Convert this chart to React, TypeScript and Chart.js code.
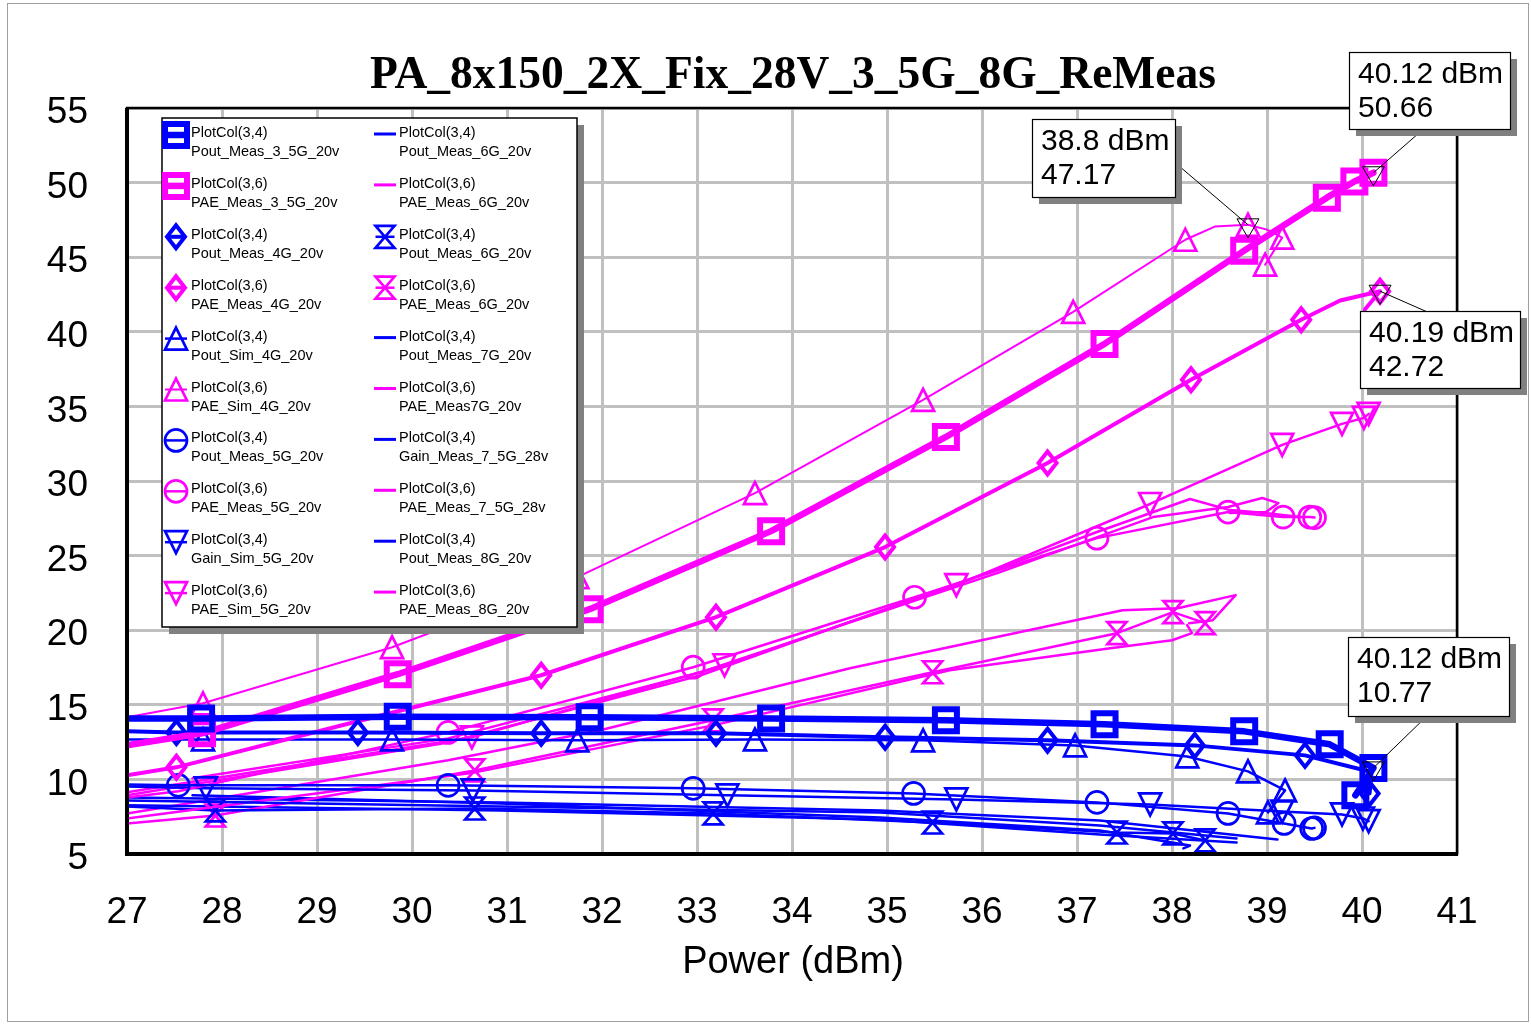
import React, { useEffect, useRef } from 'react';
import { Chart, registerables } from 'chart.js';

Chart.register(...registerables);

const BLUE = '#0000ff';
const MAGENTA = '#ff00ff';
const SANS = '"Liberation Sans", Arial, Helvetica, sans-serif';
const SERIF = '"Liberation Serif", "Times New Roman", serif';

const TITLE = 'PA_8x150_2X_Fix_28V_3_5G_8G_ReMeas';
const X_TITLE = 'Power (dBm)';
const X_MIN = 27, X_MAX = 41, X_STEP = 1;
const Y_MIN = 5, Y_MAX = 55, Y_STEP = 5;

// ---- measured / simulated sweeps (x = Power dBm, y = value) ----
const pout35X = [27.0, 27.78, 29.85, 31.87, 33.78, 35.62, 37.29, 38.76, 39.66, 40.12, 39.93];
const pout35Y = [14.08, 14.09, 14.2, 14.16, 14.09, 13.96, 13.69, 13.22, 12.35, 10.77, 8.93];
const pout35M = [1, 2, 3, 4, 5, 6, 7, 8, 9, 10];

const pae35X = [27.0, 27.79, 29.85, 31.87, 33.78, 35.62, 37.29, 38.76, 39.63, 39.92, 40.12];
const pae35Y = [12.28, 13.09, 17.05, 21.41, 26.64, 32.95, 39.19, 45.44, 48.99, 50.07, 50.66];
const pae35M = [1, 2, 3, 4, 5, 6, 7, 8, 9, 10];

const pout4X = [27.0, 27.52, 29.43, 31.36, 33.2, 34.98, 36.69, 38.24, 39.4, 40.1, 40.08];
const pout4Y = [13.22, 13.15, 13.15, 13.09, 13.09, 12.82, 12.62, 12.28, 11.61, 10.5, 9.06];
const pout4M = [1, 2, 3, 4, 5, 6, 7, 8, 10];

const pae4X = [27.0, 27.52, 29.43, 31.36, 33.2, 34.98, 36.69, 38.2, 39.36, 39.77, 40.19, 40.03];
const pae4Y = [10.27, 10.81, 13.9, 16.98, 20.87, 25.57, 31.21, 36.78, 40.81, 42.1, 42.72, 41.5];
const pae4M = [1, 3, 4, 5, 6, 7, 8, 10];

const poutSim4X = [27.0, 27.8, 29.79, 31.74, 33.61, 35.38, 36.98, 38.16, 38.8, 39.19, 39.01];
const poutSim4Y = [12.68, 12.68, 12.68, 12.62, 12.68, 12.62, 12.28, 11.54, 10.54, 9.26, 7.79];
const poutSim4M = [1, 2, 3, 4, 5, 6, 7, 8, 9, 10];

const paeSim4X = [27.0, 27.8, 29.79, 31.74, 33.61, 35.38, 36.96, 38.14, 38.45, 38.8, 39.0, 39.16, 38.98];
const paeSim4Y = [14.16, 15.1, 18.86, 23.56, 29.19, 35.44, 41.34, 46.17, 47.05, 47.17, 46.85, 46.31, 44.5];
const paeSim4M = [1, 2, 3, 4, 5, 6, 7, 9, 11, 12];

const pout5X = [27.0, 27.54, 30.38, 32.96, 35.28, 37.21, 38.59, 39.18, 39.47, 39.5];
const pout5Y = [9.66, 9.6, 9.6, 9.4, 9.06, 8.46, 7.72, 7.05, 6.71, 6.75];
const pout5M = [1, 2, 3, 4, 5, 6, 7, 8, 9];

const pae5X = [27.0, 27.54, 30.38, 32.96, 35.29, 37.21, 38.59, 39.17, 39.45, 39.5];
const pae5Y = [8.79, 9.2, 13.15, 17.52, 22.21, 26.17, 27.92, 27.58, 27.58, 27.55];
const pae5M = [2, 3, 4, 5, 6, 7, 8, 9];

const gainSim5X = [27.0, 27.83, 30.64, 33.32, 35.73, 37.77, 39.16, 39.79, 40.01, 40.07];
const gainSim5Y = [9.53, 9.4, 9.26, 8.93, 8.66, 8.32, 7.85, 7.65, 7.38, 7.2];
const gainSim5M = [1, 2, 3, 4, 5, 6, 7, 8, 9];

const paeSim5X = [27.0, 30.63, 33.29, 35.73, 37.77, 39.16, 39.79, 40.02, 40.07];
const paeSim5Y = [9.13, 12.82, 17.65, 23.02, 28.46, 32.42, 33.83, 34.23, 34.5];
const paeSim5M = [1, 2, 3, 4, 5, 6, 7, 8];

const pout6LineX = [27.0, 30.93, 34.93, 37.24, 38.68];
const pout6LineY = [8.59, 8.19, 7.78, 6.91, 6.04];

const pae6LineX = [27.0, 30.66, 33.17, 35.66, 37.35, 38.0, 38.21, 38.16];
const pae6LineY = [7.38, 10.47, 13.62, 17.32, 18.79, 19.33, 19.8, 20.34];

const pout6X = [27.0, 27.93, 30.66, 33.17, 35.48, 37.42, 38.01, 38.35];
const pout6Y = [8.19, 7.92, 8.05, 7.72, 7.11, 6.44, 6.38, 5.91];
const pout6M = [1, 2, 3, 4, 5, 6, 7];

const pae6X = [27.0, 27.93, 30.66, 33.17, 35.48, 37.42, 38.01, 38.35];
const pae6Y = [7.05, 7.58, 10.6, 13.96, 17.18, 19.8, 21.21, 20.47];
const pae6M = [1, 2, 3, 4, 5, 6, 7];

const pout7X = [27.0, 30.93, 34.93, 37.24, 39.11];
const pout7Y = [8.79, 8.45, 7.92, 7.25, 5.97];

const pae7X = [27.0, 30.38, 33.04, 36.19, 37.21, 38.19, 38.61, 38.98, 39.35];
const pae7Y = [8.93, 12.48, 16.98, 24.16, 26.58, 28.79, 28.05, 27.85, 27.58];

const gain75X = [27.69, 30.93, 34.93, 37.24, 38.19, 38.12];
const gain75Y = [8.93, 8.39, 7.45, 6.58, 5.57, 5.37];

const pae75X = [27.69, 30.38, 33.04, 36.19, 37.8, 38.59, 38.95, 39.12, 38.99, 38.61];
const pae75Y = [10.07, 12.75, 17.18, 23.89, 27.58, 28.26, 28.86, 28.52, 27.92, 27.85];

const pout8X = [27.0, 30.93, 34.93, 37.24, 38.68];
const pout8Y = [8.26, 7.92, 7.32, 6.31, 5.77];

const pae8X = [27.0, 30.38, 31.98, 34.61, 37.48, 38.06, 38.67, 38.43, 38.18];
const pae8Y = [7.72, 11.28, 13.29, 17.45, 21.34, 21.47, 22.35, 20.67, 20.47];

// ---- marker readouts ----
const readoutX = [40.12, 38.8, 40.19, 40.12];
const readoutY = [50.66, 47.17, 42.72, 10.77];

type Marker = 'square' | 'diamond' | 'tri' | 'triDown' | 'circle' | 'hourglass' | 'none';

interface Series {
  col: string;
  name: string;
  color: string;
  xs: number[];
  ys: number[];
  marks: number[];
  marker: Marker;
  width: number;
}

const C4 = 'PlotCol(3,4)';
const C6 = 'PlotCol(3,6)';

const series: Series[] = [
  { col: C4, name: 'Pout_Meas_3_5G_20v', color: BLUE, xs: pout35X, ys: pout35Y, marks: pout35M, marker: 'square', width: 6.5 },
  { col: C6, name: 'PAE_Meas_3_5G_20v', color: MAGENTA, xs: pae35X, ys: pae35Y, marks: pae35M, marker: 'square', width: 6.5 },
  { col: C4, name: 'Pout_Meas_4G_20v', color: BLUE, xs: pout4X, ys: pout4Y, marks: pout4M, marker: 'diamond', width: 4 },
  { col: C6, name: 'PAE_Meas_4G_20v', color: MAGENTA, xs: pae4X, ys: pae4Y, marks: pae4M, marker: 'diamond', width: 4 },
  { col: C4, name: 'Pout_Sim_4G_20v', color: BLUE, xs: poutSim4X, ys: poutSim4Y, marks: poutSim4M, marker: 'tri', width: 2.5 },
  { col: C6, name: 'PAE_Sim_4G_20v', color: MAGENTA, xs: paeSim4X, ys: paeSim4Y, marks: paeSim4M, marker: 'tri', width: 2 },
  { col: C4, name: 'Pout_Meas_5G_20v', color: BLUE, xs: pout5X, ys: pout5Y, marks: pout5M, marker: 'circle', width: 2.5 },
  { col: C6, name: 'PAE_Meas_5G_20v', color: MAGENTA, xs: pae5X, ys: pae5Y, marks: pae5M, marker: 'circle', width: 2.5 },
  { col: C4, name: 'Gain_Sim_5G_20v', color: BLUE, xs: gainSim5X, ys: gainSim5Y, marks: gainSim5M, marker: 'triDown', width: 2.5 },
  { col: C6, name: 'PAE_Sim_5G_20v', color: MAGENTA, xs: paeSim5X, ys: paeSim5Y, marks: paeSim5M, marker: 'triDown', width: 2.5 },
  { col: C4, name: 'Pout_Meas_6G_20v', color: BLUE, xs: pout6LineX, ys: pout6LineY, marks: [], marker: 'none', width: 2.5 },
  { col: C6, name: 'PAE_Meas_6G_20v', color: MAGENTA, xs: pae6LineX, ys: pae6LineY, marks: [], marker: 'none', width: 2.5 },
  { col: C4, name: 'Pout_Meas_6G_20v', color: BLUE, xs: pout6X, ys: pout6Y, marks: pout6M, marker: 'hourglass', width: 2.5 },
  { col: C6, name: 'PAE_Meas_6G_20v', color: MAGENTA, xs: pae6X, ys: pae6Y, marks: pae6M, marker: 'hourglass', width: 2.5 },
  { col: C4, name: 'Pout_Meas_7G_20v', color: BLUE, xs: pout7X, ys: pout7Y, marks: [], marker: 'none', width: 2.5 },
  { col: C6, name: 'PAE_Meas7G_20v', color: MAGENTA, xs: pae7X, ys: pae7Y, marks: [], marker: 'none', width: 2.5 },
  { col: C4, name: 'Gain_Meas_7_5G_28v', color: BLUE, xs: gain75X, ys: gain75Y, marks: [], marker: 'none', width: 2.5 },
  { col: C6, name: 'PAE_Meas_7_5G_28v', color: MAGENTA, xs: pae75X, ys: pae75Y, marks: [], marker: 'none', width: 2.5 },
  { col: C4, name: 'Pout_Meas_8G_20v', color: BLUE, xs: pout8X, ys: pout8Y, marks: [], marker: 'none', width: 2.5 },
  { col: C6, name: 'PAE_Meas_8G_20v', color: MAGENTA, xs: pae8X, ys: pae8Y, marks: [], marker: 'none', width: 2.5 },
];

// marker geometry (half width, half height, stroke)
const MARKER_GEOM: Record<string, { hw: number; hh: number; lw: number }> = {
  square: { hw: 11, hh: 11, lw: 6 },
  diamond: { hw: 9, hh: 11.5, lw: 4 },
  tri: { hw: 11, hh: 11, lw: 2.7 },
  triDown: { hw: 11, hh: 11, lw: 2.7 },
  circle: { hw: 11, hh: 11, lw: 2.7 },
  hourglass: { hw: 9.5, hh: 11, lw: 2.7 },
};

function traceMarker(ctx: CanvasRenderingContext2D, m: Marker, x: number, y: number) {
  const g = MARKER_GEOM[m];
  if (!g) return;
  const { hw, hh } = g;
  ctx.beginPath();
  switch (m) {
    case 'square':
      ctx.rect(x - hw, y - hh, hw * 2, hh * 2);
      break;
    case 'diamond':
      ctx.moveTo(x, y - hh);
      ctx.lineTo(x + hw, y);
      ctx.lineTo(x, y + hh);
      ctx.lineTo(x - hw, y);
      ctx.closePath();
      break;
    case 'tri':
      ctx.moveTo(x, y - hh);
      ctx.lineTo(x + hw, y + hh);
      ctx.lineTo(x - hw, y + hh);
      ctx.closePath();
      break;
    case 'triDown':
      ctx.moveTo(x, y + hh);
      ctx.lineTo(x + hw, y - hh);
      ctx.lineTo(x - hw, y - hh);
      ctx.closePath();
      break;
    case 'circle':
      ctx.arc(x, y, hw, 0, Math.PI * 2);
      break;
    case 'hourglass':
      ctx.moveTo(x - hw, y - hh);
      ctx.lineTo(x + hw, y - hh);
      ctx.lineTo(x - hw, y + hh);
      ctx.lineTo(x + hw, y + hh);
      ctx.closePath();
      break;
  }
}

function strokeMarker(ctx: CanvasRenderingContext2D, m: Marker, x: number, y: number, color: string) {
  const g = MARKER_GEOM[m];
  if (!g) return;
  ctx.save();
  ctx.strokeStyle = color;
  ctx.lineWidth = g.lw;
  ctx.lineJoin = 'miter';
  traceMarker(ctx, m, x, y);
  ctx.stroke();
  ctx.restore();
}

// per-dataset markers, drawn right after each line so stacking follows the dataset order
const markerPlugin = {
  id: 'seriesMarkers',
  afterDatasetDraw(chart: any, args: any) {
    const s = series[args.index];
    if (!s || s.marker === 'none') return;
    const ctx: CanvasRenderingContext2D = chart.ctx;
    const xs = chart.scales.x;
    const ys = chart.scales.y;
    const a = chart.chartArea;
    ctx.save();
    ctx.beginPath();
    ctx.rect(a.left, a.top, a.right - a.left, a.bottom - a.top);
    ctx.clip();
    for (const i of s.marks) {
      strokeMarker(ctx, s.marker, xs.getPixelForValue(s.xs[i]), ys.getPixelForValue(s.ys[i]), s.color);
    }
    ctx.restore();
  },
};

// readout boxes (layout only; the values come from readoutX / readoutY)
const READOUT_BOXES = [
  { left: 1349, top: 52, w: 161, h: 77, ax: 1427, ay: 126 },
  { left: 1032, top: 119, w: 143, h: 78, ax: 1172, ay: 160 },
  { left: 1360, top: 311, w: 160, h: 77, ax: 1432, ay: 314 },
  { left: 1348, top: 637, w: 161, h: 79, ax: 1430, ay: 713 },
];

const LEGEND = { left: 162, top: 118, w: 415, h: 509, row0: 133, rowStep: 50.9, lineGap: 19 };

const decoPlugin = {
  id: 'deco',
  afterDraw(chart: any) {
    const ctx: CanvasRenderingContext2D = chart.ctx;
    const a = chart.chartArea;
    const xs = chart.scales.x;
    const ys = chart.scales.y;
    ctx.save();

    // outer frame
    ctx.strokeStyle = '#a0a0a0';
    ctx.lineWidth = 1;
    ctx.strokeRect(7.5, 3.5, 1521, 1018);

    // plot frame
    ctx.strokeStyle = '#000';
    ctx.lineWidth = 2.5;
    ctx.strokeRect(a.left, a.top, a.right - a.left, a.bottom - a.top);
    ctx.lineWidth = 4;
    ctx.beginPath();
    ctx.moveTo(a.left, a.top);
    ctx.lineTo(a.left, a.bottom);
    ctx.lineTo(a.right + 1, a.bottom);
    ctx.stroke();

    // title
    ctx.fillStyle = '#000';
    ctx.font = `bold 45.5px ${SERIF}`;
    ctx.textAlign = 'center';
    ctx.textBaseline = 'alphabetic';
    ctx.fillText(TITLE, (a.left + a.right) / 2 + 1, 88);

    // x axis title
    ctx.font = `38px ${SANS}`;
    ctx.textBaseline = 'middle';
    ctx.fillText(X_TITLE, (a.left + a.right) / 2 + 1, 963);

    // legend
    const L = LEGEND;
    ctx.fillStyle = '#808080';
    ctx.fillRect(L.left + 7, L.top + 7, L.w, L.h);
    ctx.fillStyle = '#fff';
    ctx.fillRect(L.left, L.top, L.w, L.h);
    ctx.strokeStyle = '#000';
    ctx.lineWidth = 1.5;
    ctx.strokeRect(L.left, L.top, L.w, L.h);
    ctx.font = `14.5px ${SANS}`;
    ctx.textAlign = 'left';
    ctx.textBaseline = 'middle';
    series.forEach((s, i) => {
      const col = i < 10 ? 0 : 1;
      const row = i % 10;
      const yc = L.row0 + row * L.rowStep;
      const symX = col === 0 ? 176 : 385;
      const textX = col === 0 ? 191 : 399;
      ctx.strokeStyle = s.color;
      if (s.marker === 'none') {
        ctx.lineWidth = 3;
        ctx.beginPath();
        ctx.moveTo(symX - 11, yc + 1);
        ctx.lineTo(symX + 11, yc + 1);
        ctx.stroke();
      } else {
        const g = MARKER_GEOM[s.marker];
        ctx.lineWidth = s.width;
        ctx.beginPath();
        ctx.moveTo(symX - g.hw, yc + 2);
        ctx.lineTo(symX + g.hw, yc + 2);
        ctx.stroke();
        strokeMarker(ctx, s.marker, symX, yc + 2, s.color);
      }
      ctx.fillStyle = '#000';
      ctx.fillText(s.col, textX, yc);
      ctx.fillText(s.name, textX, yc + L.lineGap);
    });

    // readouts
    readoutX.forEach((rx, i) => {
      const b = READOUT_BOXES[i];
      const px = xs.getPixelForValue(rx);
      const py = ys.getPixelForValue(readoutY[i]);
      ctx.strokeStyle = '#000';
      ctx.lineWidth = 1;
      ctx.beginPath();
      ctx.moveTo(b.ax, b.ay);
      ctx.lineTo(px, py);
      ctx.stroke();
      // marker
      ctx.beginPath();
      ctx.moveTo(px - 11, py - 6);
      ctx.lineTo(px + 11, py - 6);
      ctx.lineTo(px, py + 13);
      ctx.closePath();
      ctx.stroke();
      // box
      ctx.fillStyle = '#808080';
      ctx.fillRect(b.left + 7, b.top + 7, b.w, b.h);
      ctx.fillStyle = '#fff';
      ctx.fillRect(b.left, b.top, b.w, b.h);
      ctx.lineWidth = 1.2;
      ctx.strokeRect(b.left + 0.5, b.top + 0.5, b.w, b.h);
      ctx.fillStyle = '#000';
      ctx.font = `30px ${SANS}`;
      ctx.textAlign = 'left';
      ctx.textBaseline = 'middle';
      ctx.fillText(`${rx} dBm`, b.left + 9, b.top + 23);
      ctx.fillText(`${readoutY[i]}`, b.left + 9, b.top + 57);
    });

    ctx.restore();
  },
};

export default function App() {
  const ref = useRef<HTMLCanvasElement | null>(null);

  useEffect(() => {
    document.body.style.margin = '0';
    document.body.style.overflow = 'hidden';
    const canvas = ref.current;
    if (!canvas) return;

    const datasets = series.map((s) => ({
      label: s.name,
      data: s.xs.map((x, i) => ({ x, y: s.ys[i] })),
      showLine: true,
      borderColor: s.color,
      backgroundColor: s.color,
      borderWidth: s.width,
      pointRadius: 0,
      pointHoverRadius: 0,
      tension: 0,
      fill: false,
      borderJoinStyle: 'round' as const,
      borderCapStyle: 'round' as const,
    }));

    const chart = new Chart(canvas, {
      type: 'scatter',
      data: { datasets },
      options: {
        animation: false,
        responsive: false,
        events: [],
        layout: { padding: { left: 0, right: 74, top: 108, bottom: 0 } },
        plugins: {
          legend: { display: false },
          title: { display: false },
          tooltip: { enabled: false },
        },
        scales: {
          x: {
            type: 'linear',
            min: X_MIN,
            max: X_MAX,
            ticks: {
              stepSize: X_STEP,
              color: '#000',
              font: { family: SANS, size: 37 },
              padding: 37,
              maxRotation: 0,
              autoSkip: false,
            },
            grid: { color: '#c0c0c0', lineWidth: 3, drawTicks: false },
            border: { display: false },
            afterFit(scale: any) {
              scale.height = 170;
            },
          },
          y: {
            type: 'linear',
            min: Y_MIN,
            max: Y_MAX,
            ticks: {
              stepSize: Y_STEP,
              color: '#000',
              font: { family: SANS, size: 37 },
              padding: 39,
              labelOffset: 5,
              autoSkip: false,
            },
            grid: { color: '#c0c0c0', lineWidth: 3, drawTicks: false },
            border: { display: false },
            afterFit(scale: any) {
              scale.width = 127;
            },
          },
        },
      },
      plugins: [markerPlugin, decoPlugin],
    } as any);

    return () => chart.destroy();
  }, []);

  return (
    <canvas
      ref={ref}
      width={1531}
      height={1024}
      style={{ display: 'block', width: 1531, height: 1024 }}
    />
  );
}
